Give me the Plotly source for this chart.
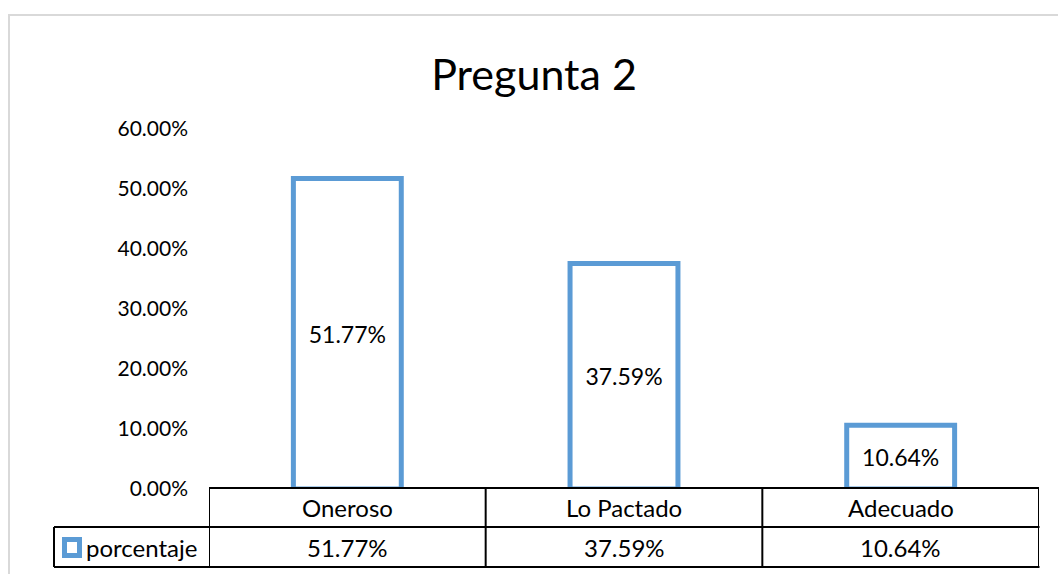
import plotly.graph_objects as go

# data
categorias = ['Oneroso', 'Lo Pactado', 'Adecuado']
porcentaje = [0.5177, 0.3759, 0.1064]
serie = 'porcentaje'
y_ticks = [0, 0.1, 0.2, 0.3, 0.4, 0.5, 0.6]

W, H = 1058, 574
azul = '#5B9BD5'
fuente = 'Lato'

def px(x):
    return x / W

def py(y):
    return 1 - y / H

x_idx = list(range(len(categorias)))
etiquetas = ['{:.2%}'.format(v) for v in porcentaje]

fig = go.Figure()
fig.add_trace(go.Bar(
    x=x_idx, y=porcentaje, width=0.39,
    marker=dict(color='white', line=dict(color=azul, width=5)),
    text=etiquetas, textposition='inside', insidetextanchor='middle',
    textfont=dict(family=fuente, size=23, color='black'),
    name=serie, showlegend=False, hoverinfo='skip',
))

# table row positions (paper coords)
top_tab = py(488)
mid_tab = py(527)
bot_tab = py(567)
left_leg = px(54)

shapes = []
# outer chart border
shapes.append(dict(type='rect', xref='paper', yref='paper',
                   x0=px(9), x1=1.02, y0=-0.02, y1=py(15),
                   line=dict(color='#D9D9D9', width=2)))
lw = dict(color='black', width=2)
# horizontal lines
shapes.append(dict(type='line', xref='x', yref='paper', x0=-0.5, x1=len(categorias) - 0.5,
                   y0=top_tab, y1=top_tab, line=lw))
shapes.append(dict(type='line', xref='paper', yref='paper', x0=left_leg, x1=px(1039.5),
                   y0=mid_tab, y1=mid_tab, line=lw))
shapes.append(dict(type='line', xref='paper', yref='paper', x0=left_leg, x1=px(1039.5),
                   y0=bot_tab, y1=bot_tab, line=lw))
# vertical lines
for i in range(len(categorias) + 1):
    shapes.append(dict(type='line', xref='x', yref='paper', x0=i - 0.5, x1=i - 0.5,
                       y0=bot_tab, y1=top_tab, line=lw))
shapes.append(dict(type='line', xref='paper', yref='paper', x0=left_leg, x1=left_leg,
                   y0=bot_tab, y1=mid_tab, line=lw))
# legend key
shapes.append(dict(type='rect', xref='paper', yref='paper',
                   x0=px(64.5), x1=px(79.5), y0=py(555.5), y1=py(539.5),
                   fillcolor='white', line=dict(color=azul, width=5)))

annotations = []
fnt = dict(family=fuente, size=24, color='black')
for i, (c, t) in enumerate(zip(categorias, etiquetas)):
    annotations.append(dict(x=i, y=(top_tab + mid_tab) / 2, xref='x', yref='paper',
                            yanchor='middle', text=c, showarrow=False, font=fnt))
    annotations.append(dict(x=i, y=(mid_tab + bot_tab) / 2, xref='x', yref='paper',
                            yanchor='middle', text=t, showarrow=False, font=fnt))
annotations.append(dict(x=px(84), y=(mid_tab + bot_tab) / 2, xref='paper', yref='paper',
                        xanchor='left', yanchor='middle', text=serie, showarrow=False,
                        font=fnt))

fig.update_layout(
    width=W, height=H,
    margin=dict(l=0, r=0, t=0, b=0, autoexpand=False),
    paper_bgcolor='white', plot_bgcolor='white',
    title=dict(text='Pregunta 2', x=px(534), xanchor='center', y=py(75), yanchor='middle',
               font=dict(family=fuente, size=43, color='black')),
    xaxis=dict(domain=[px(209), px(1039)], range=[-0.5, len(categorias) - 0.5],
               showticklabels=False, showgrid=False, zeroline=False, showline=False,
               automargin=False),
    yaxis=dict(domain=[py(489), py(129)], range=[0, 0.6], tickvals=y_ticks,
               tickformat='.2%', showgrid=False, zeroline=False, showline=False,
               ticks='', ticklabelstandoff=20, automargin=False,
               tickfont=dict(family=fuente, size=21, color='black')),
    shapes=shapes, annotations=annotations,
    bargap=0.6,
)

fig.write_html('out.html', config={'displayModeBar': False},
               post_script="document.body.style.margin='0';")
